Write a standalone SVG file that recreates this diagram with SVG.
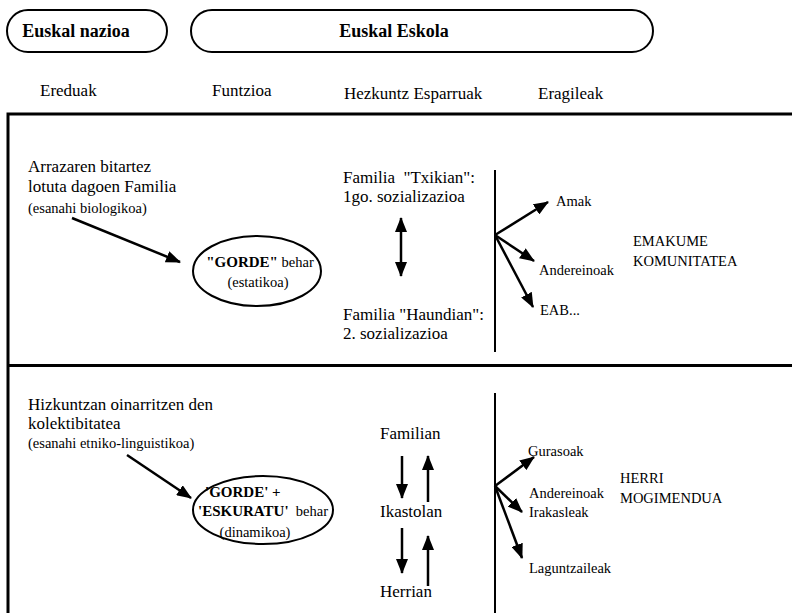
<svg xmlns="http://www.w3.org/2000/svg" width="792" height="613" viewBox="0 0 792 613">
<defs>
<marker id="ah" markerUnits="userSpaceOnUse" markerWidth="16" markerHeight="12" refX="14" refY="6" orient="auto-start-reverse">
<path d="M0,0 L15,6 L0,12 Z" fill="#000"/>
</marker>
</defs>
<style>
text{font-family:'Liberation Serif','Times New Roman',serif;fill:#000}
.b{font-weight:bold;font-size:18px}
.m{font-size:17px}
.s{font-size:14.5px}
.bs{font-weight:bold;font-size:15px}
.frame{fill:none;stroke:#000;stroke-width:3}
.ln{fill:none;stroke:#000;stroke-width:2}
.ar{fill:none;stroke:#000;stroke-width:2.5;marker-end:url(#ah)}
.ar2{fill:none;stroke:#000;stroke-width:2.5;marker-end:url(#ah);marker-start:url(#ah)}
.sh{fill:#fff;stroke:#000;stroke-width:2}
</style>
<rect width="792" height="613" fill="#fff"/>
<g id="header">
<g id="euskal-nazioa"><rect class="sh" x="7" y="10" width="160" height="42" rx="21"/><text class="b" x="76" y="37" text-anchor="middle">Euskal nazioa</text></g>
<g id="euskal-eskola"><rect class="sh" x="191" y="10" width="462" height="42" rx="21"/><text class="b" x="394" y="37" text-anchor="middle">Euskal Eskola</text></g>
<text class="m" x="40" y="96">Ereduak</text>
<text class="m" x="212" y="96">Funtzioa</text>
<text class="m" x="344" y="99">Hezkuntz Esparruak</text>
<text class="m" x="538" y="99">Eragileak</text>
</g>
<g id="frame">
<path class="frame" d="M800,114 H8 V620"/>
<path class="frame" d="M8,365.5 H800"/>
<path class="ln" d="M495,170 V352"/>
<path class="ln" d="M495,393 V613"/>
</g>
<g id="top-eredua"><text class="m" x="28" y="172">Arrazaren bitartez</text><text class="m" x="28" y="192">lotuta dagoen Familia</text><text class="s" x="28" y="213">(esanahi biologikoa)</text></g>
<g id="gorde"><ellipse class="sh" cx="257" cy="271" rx="64" ry="35"/><text x="260" y="267" text-anchor="middle"><tspan class="bs">"GORDE"</tspan><tspan class="s"> behar</tspan></text><text class="s" x="258" y="287" text-anchor="middle">(estatikoa)</text></g>
<g id="familia-txikian"><text class="m" x="343" y="183" xml:space="preserve">Familia  "Txikian":</text><text class="m" x="343" y="202">1go. sozializazioa</text></g>
<g id="familia-haundian"><text class="m" x="343" y="320">Familia "Haundian":</text><text class="m" x="343" y="339">2. sozializazioa</text></g>
<g id="amak"><text class="s" x="556" y="206">Amak</text></g>
<g id="andereinoak1"><text class="s" x="539" y="275">Andereinoak</text></g>
<g id="eab"><text class="s" x="540" y="315">EAB...</text></g>
<g id="emakume"><text class="s" x="633" y="246">EMAKUME</text><text class="s" x="633" y="266">KOMUNITATEA</text></g>
<g id="bottom-eredua"><text class="m" x="28" y="410">Hizkuntzan oinarritzen den</text><text class="m" x="28" y="429">kolektibitatea</text><text class="s" x="28" y="448">(esanahi etniko-linguistikoa)</text></g>
<g id="gorde-eskuratu"><ellipse class="sh" cx="263" cy="510" rx="70" ry="34"/><text class="bs" x="205" y="497">'GORDE' +</text><text x="198" y="516" xml:space="preserve"><tspan class="bs">'ESKURATU'</tspan><tspan class="s">  behar</tspan></text><text class="s" x="255" y="537" text-anchor="middle">(dinamikoa)</text></g>
<g id="familian"><text class="m" x="380" y="439">Familian</text></g>
<g id="ikastolan"><text class="m" x="380" y="517">Ikastolan</text></g>
<g id="herrian"><text class="m" x="380" y="597">Herrian</text></g>
<g id="gurasoak"><text class="s" x="528" y="456">Gurasoak</text></g>
<g id="andereinoak2"><text class="s" x="529" y="498">Andereinoak</text><text class="s" x="529" y="517">Irakasleak</text></g>
<g id="laguntzaileak"><text class="s" x="529" y="573">Laguntzaileak</text></g>
<g id="herri"><text class="s" x="620" y="483">HERRI</text><text class="s" x="620" y="503">MOGIMENDUA</text></g>
<g id="connectors">
<path class="ar" d="M72,218 L180,262"/>
<path class="ar2" d="M401,218 L401,276"/>
<path class="ar" d="M495,235 L548,202"/>
<path class="ar" d="M495,235 L534,261"/>
<path class="ar" d="M495,235 L533,307"/>
<path class="ar" d="M127,455 L191,498"/>
<path class="ar" d="M402,456 L402,498"/>
<path class="ar" d="M428,502 L428,456"/>
<path class="ar" d="M402,528 L402,573"/>
<path class="ar" d="M428,586 L428,536"/>
<path class="ar" d="M495,486 L534,457"/>
<path class="ar" d="M495,486 L522,512"/>
<path class="ar" d="M495,486 L522,558"/>
</g>
</svg>
